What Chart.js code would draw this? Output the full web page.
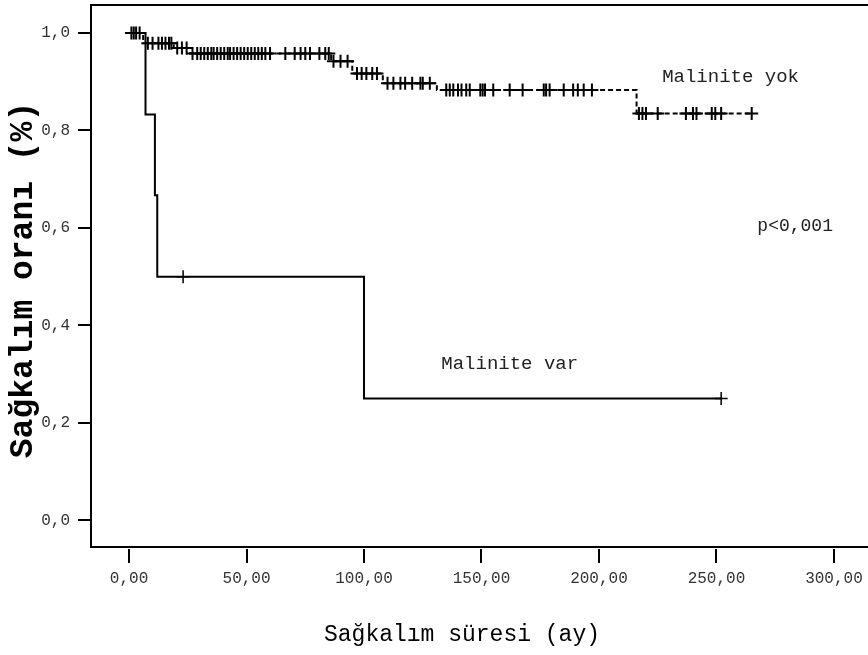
<!DOCTYPE html>
<html>
<head>
<meta charset="utf-8">
<script src="https://cdn.jsdelivr.net/npm/chart.js@4.4.0/dist/chart.umd.min.js"></script>
<style>
  body { margin: 0; background: #fff; }
  #wrap { width: 868px; height: 655px; }
</style>
</head>
<body>
<div id="wrap"><canvas id="km" width="868" height="655"></canvas></div>
<script>
// Kaplan-Meier survival: malinite yok / malinite var
const yokTimes = [0, 6, 19, 26, 86, 95, 108, 131, 216, 265];
const yokSurv = [1.0, 0.979, 0.969, 0.958, 0.942, 0.917, 0.897, 0.883, 0.835, 0.835];
const yokCensored = [1, 2, 3, 4.5, 8, 10, 12.5, 14, 15.5, 17, 18, 20.5, 22.5, 24.5,
  27, 29, 30.5, 32, 33.5, 35, 36, 37.5, 39, 40.5, 42, 43, 44.5, 46, 47.5, 49, 50.5,
  52, 53.5, 55, 56.5, 58, 60, 66.5, 70.5, 73, 75, 77, 81, 83.5, 85, 87, 90, 93,
  97, 99, 101, 103.5, 105.5, 110, 112.5, 115.5, 117.5, 120.5, 124, 125, 128,
  135, 136.5, 138, 140, 141.5, 143.5, 145, 149.5, 150.5, 151.5, 155, 162, 167.5,
  176.5, 177.5, 179, 185, 189, 191, 193.5, 197, 217, 218.5, 220, 225, 237, 240,
  241.5, 248, 249.5, 252, 265];

const varTimes = [0, 7, 11, 12, 100, 252];
const varSurv = [1.0, 0.833, 0.667, 0.5, 0.25, 0.25];
const varCensored = [23, 252];

const xTicks = [0, 50, 100, 150, 200, 250, 300];
const yTicks = [0, 0.2, 0.4, 0.6, 0.8, 1.0];

const MONO = '"Liberation Mono", "Courier New", monospace';

function survAt(times, surv, t) {
  let s = surv[0];
  for (let i = 0; i < times.length; i++) if (times[i] <= t) s = surv[i];
  return s;
}
const toPts = (xs, ys) => xs.map((t, i) => ({ x: t, y: ys[i] }));
const censorPts = (cs, times, surv) => cs.map(t => ({ x: t, y: survAt(times, surv, t) }));

// fixed axis box, no label padding added by the layout
function noPad(s) {
  s.paddingTop = 0; s.paddingBottom = 0; s.paddingLeft = 0; s.paddingRight = 0;
}

const frame = {
  id: 'frame',
  afterDraw(chart) {
    const { ctx, chartArea: a, scales: { x, y } } = chart;
    ctx.save();
    ctx.strokeStyle = '#000';
    ctx.lineWidth = 2;
    ctx.beginPath();
    ctx.moveTo(a.right, a.top);
    ctx.lineTo(a.left, a.top);
    ctx.lineTo(a.left, a.bottom);
    ctx.lineTo(a.right, a.bottom);
    yTicks.forEach(v => {
      const p = Math.round(y.getPixelForValue(v));
      ctx.moveTo(a.left - 13, p);
      ctx.lineTo(a.left, p);
    });
    xTicks.forEach(v => {
      const p = Math.round(x.getPixelForValue(v));
      ctx.moveTo(p, a.bottom + 2);
      ctx.lineTo(p, a.bottom + 16);
    });
    ctx.stroke();

    ctx.fillStyle = '#222';
    ctx.textAlign = 'center';
    ctx.textBaseline = 'middle';
    ctx.font = '19px ' + MONO;
    ctx.fillText('Malinite yok', x.getPixelForValue(256), y.getPixelForValue(0.91));
    ctx.fillText('Malinite var', x.getPixelForValue(162), y.getPixelForValue(0.32));
    ctx.font = '18px ' + MONO;
    ctx.fillText('p<0,001', x.getPixelForValue(283.5), y.getPixelForValue(0.604));

    ctx.fillStyle = '#000';
    ctx.font = '23px ' + MONO;
    ctx.fillText('Sağkalım süresi (ay)', 462, 635);
    ctx.save();
    ctx.translate(24, 280);
    ctx.rotate(-Math.PI / 2);
    ctx.font = 'bold 33px ' + MONO;
    ctx.fillText('Sağkalım oranı (%)', 0, 0);
    ctx.restore();
    ctx.restore();
  }
};

new Chart(document.getElementById('km'), {
  type: 'line',
  data: {
    datasets: [
      {
        label: 'Malinite yok',
        data: toPts(yokTimes, yokSurv),
        stepped: true,
        borderColor: '#000',
        borderWidth: 2,
        borderDash: [5, 3],
        pointRadius: 0,
        fill: false
      },
      {
        label: 'Malinite var',
        data: toPts(varTimes, varSurv),
        stepped: true,
        borderColor: '#000',
        borderWidth: 2,
        pointRadius: 0,
        fill: false
      },
      {
        label: 'yok sansür',
        data: censorPts(yokCensored, yokTimes, yokSurv),
        showLine: false,
        pointStyle: 'cross',
        pointRadius: 6.5,
        pointBorderWidth: 2,
        pointBorderColor: '#000'
      },
      {
        label: 'var sansür',
        data: censorPts(varCensored, varTimes, varSurv),
        showLine: false,
        pointStyle: 'cross',
        pointRadius: 6.5,
        pointBorderWidth: 1.5,
        pointBorderColor: '#000'
      }
    ]
  },
  options: {
    responsive: false,
    devicePixelRatio: 1,
    animation: false,
    layout: { autoPadding: false, padding: { left: 0, top: 5, right: 0, bottom: 0 } },
    plugins: { legend: { display: false }, tooltip: { enabled: false } },
    scales: {
      x: {
        type: 'linear',
        min: -16.2,
        max: 314.5,
        afterBuildTicks: s => { s.ticks = xTicks.map(v => ({ value: v })); },
        afterFit: s => { s.height = 108; noPad(s); },
        grid: { display: false, drawTicks: false },
        border: { display: false },
        ticks: {
          padding: 22,
          color: '#333',
          font: { family: MONO, size: 16 },
          maxRotation: 0,
          callback: v => v.toFixed(2).replace('.', ',')
        }
      },
      y: {
        type: 'linear',
        min: -0.0548,
        max: 1.0575,
        afterBuildTicks: s => { s.ticks = yTicks.map(v => ({ value: v })); },
        afterFit: s => { s.width = 91; noPad(s); },
        grid: { display: false, drawTicks: false },
        border: { display: false },
        ticks: {
          padding: 21,
          color: '#333',
          font: { family: MONO, size: 16 },
          callback: v => v.toFixed(1).replace('.', ',')
        }
      }
    }
  },
  plugins: [frame]
});
</script>
</body>
</html>
